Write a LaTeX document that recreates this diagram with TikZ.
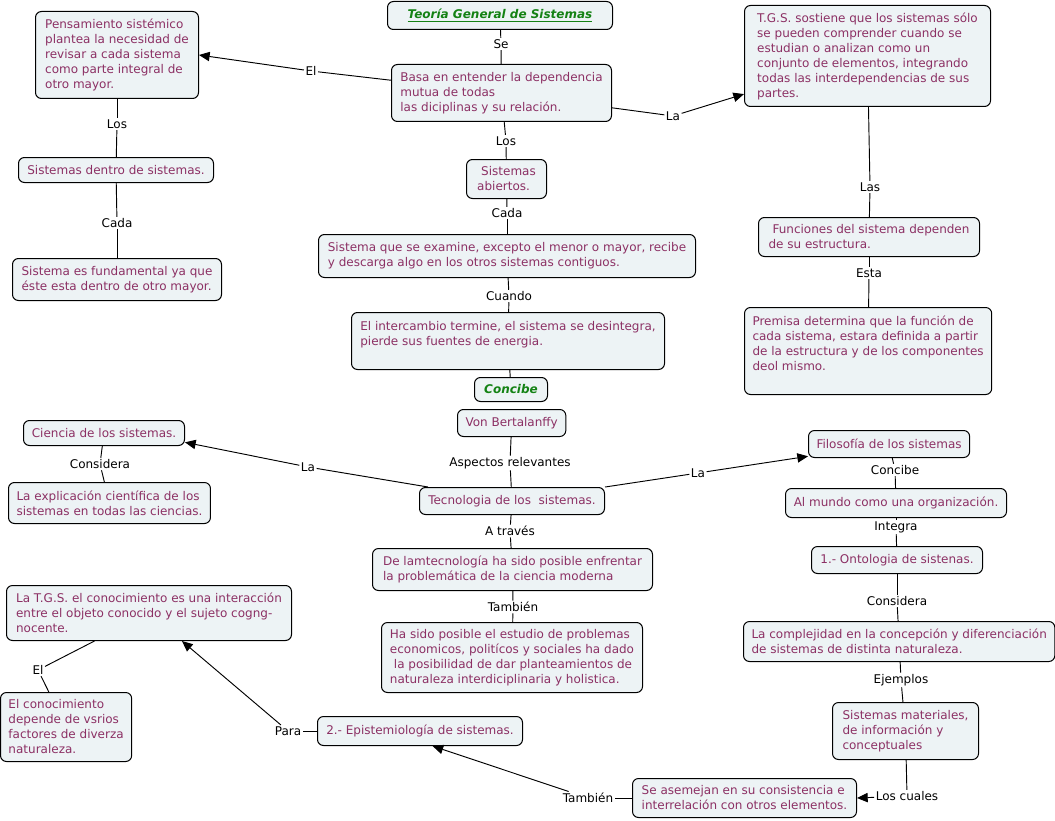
\documentclass[tikz,border=0pt]{standalone}
\usepackage{fontspec}
\setmainfont{DejaVu Sans}
\usetikzlibrary{arrows.meta}
\definecolor{cfill}{RGB}{237,243,245}
\definecolor{ctext}{RGB}{140,48,100}
\definecolor{tgreen}{RGB}{20,130,20}
\begin{document}
\begin{tikzpicture}[x=0.75pt,y=-0.75pt,
  every node/.style={font=\fontsize{9}{11.25}\selectfont},
  concept/.style={draw=black, line width=0.75pt, rounded corners=4.5pt, fill=cfill, text=ctext, inner xsep=6pt, inner ysep=2pt, anchor=north west, align=left},
  bx/.style 2 args={concept, minimum width=#1*0.75pt, minimum height=#2*0.75pt},
  lbl/.style={fill=white, inner sep=1pt, text=black},
  conn/.style={line width=0.7pt, draw=black},
  arr/.style={conn, -{Triangle[length=8pt,width=7pt]}}]
\fill[white] (0,0) rectangle (1055,820);
\useasboundingbox (0,0) rectangle (1055,820);

% concepts
\node[bx={225}{28}, align=center, text=tgreen] (title) at (387,1) {\textbf{\textit{\underline{Teoría General de Sistemas}}}};
\node[bx={220}{57}] (basa) at (391,64) {Basa en entender la dependencia\\mutua de todas\\las diciplinas y su relación.};
\node[bx={163}{87}] (pens) at (35,11) {Pensamiento sistémico\\plantea la necesidad de\\revisar a cada sistema\\como parte integral de\\otro mayor.};
\node[bx={246}{101}] (tgs) at (744,5) {T.G.S. sostiene que los sistemas sólo\\se pueden comprender cuando se\\estudian o analizan como un\\conjunto de elementos, integrando\\todas las interdependencias de sus\\partes.};
\node[bx={195}{25}, align=center] (sdds) at (18,157) {Sistemas dentro de sistemas.};
\node[bx={209}{42}] (sfund) at (12,258) {Sistema es fundamental ya que\\éste esta dentro de otro mayor.};
\node[bx={80}{39}] (sab) at (466,159) {\hspace*{3pt}Sistemas\\abiertos.};
\node[bx={377}{43}] (sexam) at (318,234) {Sistema que se examine, excepto el menor o mayor, recibe\\y descarga algo en los otros sistemas contiguos.};
\node[bx={313}{57}] (interc) at (351,312) {El intercambio termine, el sistema se desintegra,\\pierde sus fuentes de energia.\\\mbox{}};
\node[bx={73}{24}, align=center, text=tgreen] (concibe) at (474,377) {\textbf{\textit{Concibe}}};
\node[bx={108}{27}, align=center] (von) at (457,409) {Von Bertalanffy};
\node[bx={185}{27}, align=center] (tec) at (419,487) {Tecnologia de los\ \ sistemas.};
\node[bx={161}{25}, align=center] (ciencia) at (23,420) {Ciencia de los sistemas.};
\node[bx={201}{41}] (expl) at (8,482) {La explicación científica de los\\sistemas en todas las ciencias.};
\node[bx={161}{27}, align=center] (filo) at (808,430) {Filosofía de los sistemas};
\node[bx={221}{29}, align=center] (mundo) at (785,488) {Al mundo como una organización.};
\node[bx={171}{27}, align=center] (onto) at (811,546) {1.- Ontologia de sistenas.};
\node[bx={309}{40}] (complej) at (743,621) {La complejidad en la concepción y diferenciación\\de sistemas de distinta naturaleza.};
\node[bx={146}{57}] (smat) at (832,702) {Sistemas materiales,\\de información y\\conceptuales};
\node[bx={224}{39}] (seasem) at (632,778) {Se asemejan en su consistencia e\\interrelación con otros elementos.};
\node[bx={205}{29}, align=center] (epist) at (317,716) {2.- Epistemiología de sistemas.};
\node[bx={280}{42}] (lamt) at (372,548) {De lamtecnología ha sido posible enfrentar\\la problemática de la ciencia moderna};
\node[bx={261}{70}] (hasido) at (381,622) {Ha sido posible el estudio de problemas\\economicos, politícos y sociales ha dado\\\hspace*{3pt}la posibilidad de dar planteamientos de\\naturaleza interdiciplinaria y holistica.};
\node[bx={285}{55}] (latgs) at (6,585) {La T.G.S. el conocimiento es una interacción\\entre el objeto conocido y el sujeto cogng-\\nocente.};
\node[bx={131}{69}] (elcon) at (0,692) {El conocimiento\\depende de vsrios\\factores de diverza\\naturaleza.};
\node[bx={221}{39}] (func) at (758,217) {\hspace*{3pt}Funciones del sistema dependen\\de su estructura.};
\node[bx={247}{87}] (premisa) at (744,307) {Premisa determina que la función de\\cada sistema, estara definida a partir\\de la estructura y de los componentes\\deol mismo.\\\mbox{}};

% linking phrases
\node[lbl] (lSe) at (501,44) {Se};
\node[lbl] (lEl1) at (311,71) {El};
\node[lbl] (lLa1) at (673,116) {La};
\node[lbl] (lLos1) at (117,124) {Los};
\node[lbl] (lCada1) at (117,223) {Cada};
\node[lbl] (lLos2) at (506,141) {Los};
\node[lbl] (lCada2) at (507,213) {Cada};
\node[lbl] (lCuando) at (509,296) {Cuando};
\node[lbl] (lAsp) at (510,463) {Aspectos relevantes};
\node[lbl] (lLas) at (870,187) {Las};
\node[lbl] (lEsta) at (869,273) {Esta};
\node[lbl] (lLa2) at (308,467) {La};
\node[lbl] (lCons1) at (100,464) {Considera};
\node[lbl] (lLa3) at (698,473) {La};
\node[lbl] (lConc) at (895,470) {Concibe};
\node[lbl] (lInt) at (896,527) {Integra};
\node[lbl] (lAtr) at (510,531) {A través};
\node[lbl] (lTam1) at (513,607) {También};
\node[lbl] (lCons2) at (897,601) {Considera};
\node[lbl] (lEj) at (901,680) {Ejemplos};
\node[lbl] (lLosc) at (907,796) {Los cuales};
\node[lbl] (lTam2) at (588,798) {También};
\node[lbl] (lPara) at (288,731) {Para};
\node[lbl] (lEl2) at (38,670) {El};

% connectors
\draw[conn] (title) -- (lSe); \draw[conn] (lSe) -- (basa);
\draw[conn] (basa) -- (lEl1); \draw[arr] (lEl1) -- (pens.east);
\draw[conn] (basa) -- (lLa1); \draw[arr] (lLa1) -- (tgs);
\draw[conn] (pens) -- (lLos1); \draw[conn] (lLos1) -- (sdds);
\draw[conn] (sdds) -- (lCada1); \draw[conn] (lCada1) -- (sfund);
\draw[conn] (basa) -- (lLos2); \draw[conn] (lLos2) -- (sab);
\draw[conn] (sab) -- (lCada2); \draw[conn] (lCada2) -- (sexam);
\draw[conn] (sexam) -- (lCuando); \draw[conn] (lCuando) -- (interc);
\draw[conn] (interc) -- (concibe);
\draw[conn] (von) -- (lAsp); \draw[conn] (lAsp) -- (tec);
\draw[conn] (tgs) -- (lLas); \draw[conn] (lLas) -- (func);
\draw[conn] (func) -- (lEsta); \draw[conn] (lEsta) -- (premisa);
\draw[conn] (tec) -- (lLa2); \draw[arr] (lLa2) -- ([yshift=-7pt]ciencia.east);
\draw[conn] (ciencia) -- (lCons1); \draw[conn] (lCons1) -- (expl);
\draw[conn] (tec) -- (lLa3); \draw[arr] (lLa3) -- (filo);
\draw[conn] (filo) -- (lConc); \draw[conn] (lConc) -- (mundo);
\draw[conn] (mundo) -- (lInt); \draw[conn] (lInt) -- (onto);
\draw[conn] (tec) -- (lAtr); \draw[conn] (lAtr) -- (lamt);
\draw[conn] (lamt) -- (lTam1); \draw[conn] (lTam1) -- (hasido);
\draw[conn] (onto) -- (lCons2); \draw[conn] (lCons2) -- (complej);
\draw[conn] (complej) -- (lEj); \draw[conn] (lEj) -- (smat);
\draw[conn] (smat) -- (lLosc); \draw[arr] (lLosc) -- (seasem.east);
\draw[conn] (seasem) -- (lTam2); \draw[arr] (lTam2) -- ([xshift=9.4pt]epist.south);
\draw[conn] (epist) -- (lPara); \draw[arr] (lPara) -- (latgs);
\draw[conn] (latgs) -- (lEl2); \draw[conn] (lEl2) -- (elcon);
\end{tikzpicture}
\end{document}
